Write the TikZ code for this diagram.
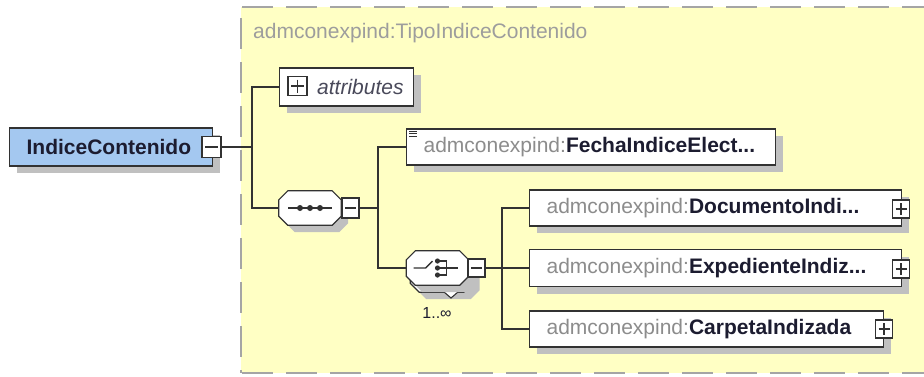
\documentclass[tikz,border=0pt]{standalone}
\usepackage{fontspec}
\setmainfont{Liberation Sans}
\usetikzlibrary{shadows}
\definecolor{paneyellow}{RGB}{255,255,196}
\definecolor{panedash}{RGB}{165,165,165}
\definecolor{rootblue}{RGB}{164,200,240}
\definecolor{prefixgray}{RGB}{140,140,140}
\definecolor{namedark}{RGB}{28,28,48}
\definecolor{boxline}{RGB}{50,50,50}
\definecolor{shadowgray}{RGB}{192,192,192}
\newcommand{\qname}[1]{{\color{prefixgray}admconexpind:}{\color{namedark}\textbf{#1}}}
\newcommand{\octpath}[3]{([shift={(9+#2,#3)}]#1.north west) -- ([shift={(-9+#2,#3)}]#1.north east)
	-- ([shift={(#2,9+#3)}]#1.north east) -- ([shift={(#2,-9+#3)}]#1.south east)
	-- ([shift={(-9+#2,#3)}]#1.south east) -- ([shift={(9+#2,#3)}]#1.south west)
	-- ([shift={(#2,-9+#3)}]#1.south west) -- ([shift={(#2,9+#3)}]#1.north west) -- cycle}
\newcommand{\compositor}[3]{
	\node[compbox] (#1) at (#2,#3) {};
	\fill[shadowgray] \octpath{#1}{7}{7};
	\draw[boxline, line width=1.2pt, fill=white] \octpath{#1}{0}{0};
}
\tikzset{
	boxshadow/.style={drop shadow={shadow xshift=7pt, shadow yshift=-7pt, fill=shadowgray, opacity=1}},
	elem/.style={draw=boxline, line width=1.2pt, fill=white, minimum height=36pt,
		inner xsep=17pt, inner ysep=0pt, align=left, anchor=west, boxshadow},
	compbox/.style={minimum width=62pt, minimum height=34pt, inner sep=0pt},
	pmbox/.style={draw=boxline, line width=1.3pt, fill=white, minimum width=17pt,
		minimum height=18pt, inner sep=0pt},
	minusbox/.style={pmbox, path picture={
		\draw[boxline, line width=1.1pt] ([xshift=3pt]path picture bounding box.west)
			-- ([xshift=-3pt]path picture bounding box.east);}},
	plusbox/.style={pmbox, path picture={
		\draw[boxline, line width=1.1pt] ([xshift=3pt]path picture bounding box.west)
			-- ([xshift=-3pt]path picture bounding box.east)
			([yshift=-3pt]path picture bounding box.north)
			-- ([yshift=3pt]path picture bounding box.south);}},
	conn/.style={draw=boxline, line width=1.4pt}
}

\begin{document}
\begin{tikzpicture}[x=1pt, y=-1pt, every node/.style={font=\fontsize{21}{25}\selectfont}]
	\useasboundingbox (0,0) rectangle (924,376);
	\fill[paneyellow] (241,7) rectangle (924,373);
	\draw[panedash, line width=2.5pt, dash pattern=on 31pt off 13pt] (242,7) -- (924,7);
	\draw[panedash, line width=2.5pt, dash pattern=on 31pt off 13pt] (241,18) -- (241,373);
	\draw[panedash, line width=2.5pt, dash pattern=on 31pt off 13pt] (242,373) -- (924,373);
	\node[anchor=west, inner sep=0pt, text=prefixgray!85] (title) at (253,33) {admconexpind:TipoIndiceContenido};

	\node[elem, fill=rootblue, minimum height=38pt, text width=169pt] (root) at (9,147) {\color{namedark}\textbf{IndiceContenido}};
	\node[minusbox, minimum width=19pt, minimum height=21pt] (rootm) at (211.5,147) {};

	\node[elem, inner xsep=10pt, text width=114pt, align=right, minimum height=38pt] (attr) at (279,87) {\color{namedark!80}\textit{attributes}};
	\node[plusbox, minimum width=19pt, minimum height=19pt] (attrp) at (297.5,86) {};

	\compositor{seq}{310}{208}
	\draw[boxline, line width=1.3pt] ([xshift=-22pt]seq.center) -- ([xshift=22pt]seq.center);
	\fill[boxline] ([xshift=-10pt]seq.center) circle (3pt) (seq.center) circle (3pt) ([xshift=10pt]seq.center) circle (3pt);
	\node[minusbox, minimum height=20pt] (seqm) at (350.5,208) {};

	\node[elem, text width=335pt] (fecha) at (406,147) {\qname{FechaIndiceElect...}};
	\draw[boxline, line width=1pt] ([shift={(3,3)}]fecha.north west) -- ++(8,0)
		([shift={(3,5.5)}]fecha.north west) -- ++(8,0)
		([shift={(3,8)}]fecha.north west) -- ++(8,0);

	\compositor{choiceb}{441.5}{275}
	\draw[boxline, line width=1.1pt, fill=white] (444,292) -- (451,298) -- (458,292);
	\compositor{choice}{437.5}{268}
	\draw[boxline, line width=1.4pt] ([shift={(-24,0)}]choice.center) -- ([shift={(-12,0)}]choice.center) -- ([shift={(-5,-7)}]choice.center);
	\draw[boxline, line width=1.4pt] ([shift={(0,-7)}]choice.center) -- ([shift={(9,-7)}]choice.center) -- ([shift={(9,7)}]choice.center) -- ([shift={(0,7)}]choice.center)
		(choice.center) -- ([shift={(20,0)}]choice.center);
	\fill[boxline] ([shift={(0,-7)}]choice.center) circle (2.6pt) (choice.center) circle (2.6pt) ([shift={(0,7)}]choice.center) circle (2.6pt);
	\node[minusbox] (choicem) at (476.5,268) {};
	\node[font=\fontsize{16}{18}\selectfont, text=namedark, inner sep=0pt] (occurs) at (437,313) {1..∞};

	\node[elem, text width=338pt] (doc) at (529,208) {\qname{DocumentoIndi...}};
	\node[plusbox] (docp) at (901,209) {};
	\node[elem, text width=338pt, minimum height=37pt] (exp) at (529,268) {\qname{ExpedienteIndiz...}};
	\node[plusbox] (expp) at (901,269) {};
	\node[elem, text width=320pt] (carp) at (529,329) {\qname{CarpetaIndizada}};
	\node[plusbox] (carpp) at (884,329) {};

	\coordinate (j1) at (252,147);
	\draw[conn] (rootm.east) -- (j1);
	\draw[conn] (attr.west) -| (j1);
	\draw[conn] (seq.west) -| (j1);
	\coordinate (j2) at (378,208);
	\draw[conn] (seqm.east) -- (j2);
	\draw[conn] (fecha.west) -| (j2);
	\draw[conn] (choice.west) -| (j2);
	\coordinate (j3) at (502,268);
	\draw[conn] (choicem.east) -- (j3);
	\draw[conn] (doc.west) -| (j3);
	\draw[conn] (exp.west) -| (j3);
	\draw[conn] (carp.west) -| (j3);
\end{tikzpicture}
\end{document}
